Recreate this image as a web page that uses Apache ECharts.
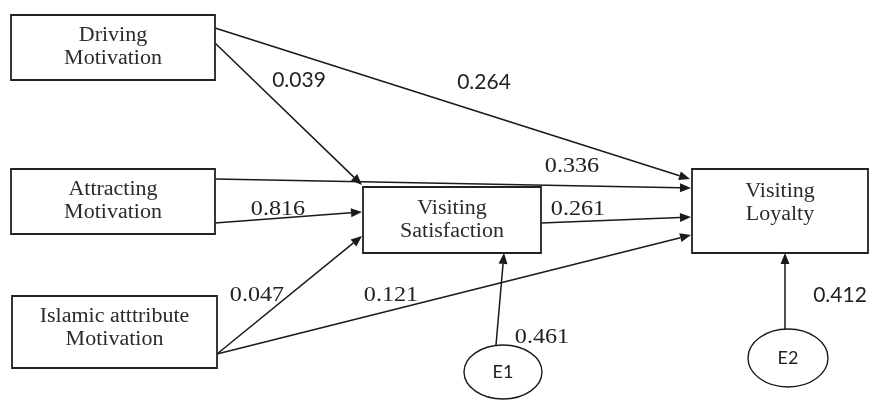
<!DOCTYPE html>
<html><head><meta charset="utf-8">
<script src="https://cdn.jsdelivr.net/npm/echarts@6/dist/echarts.min.js"></script>
<style>html,body{margin:0;padding:0;background:#fff}#c{width:869px;height:400px}</style>
</head><body><div id="c"></div>
<script>
// ---- data ----
const constructs = ['Driving\nMotivation', 'Attracting\nMotivation', 'Islamic atttribute\nMotivation', 'Visiting\nSatisfaction', 'Visiting\nLoyalty'];
const errorTerms = ['E1', 'E2'];
const pathFrom = ['Driving\nMotivation', 'Driving\nMotivation', 'Attracting\nMotivation', 'Attracting\nMotivation', 'Islamic atttribute\nMotivation', 'Islamic atttribute\nMotivation', 'Visiting\nSatisfaction', 'E1', 'E2'];
const pathTo = ['Visiting\nLoyalty', 'Visiting\nSatisfaction', 'Visiting\nLoyalty', 'Visiting\nSatisfaction', 'Visiting\nSatisfaction', 'Visiting\nLoyalty', 'Visiting\nLoyalty', 'Visiting\nSatisfaction', 'Visiting\nLoyalty'];
const pathCoef = ['0.264', '0.039', '0.336', '0.816', '0.047', '0.121', '0.261', '0.461', '0.412'];

// ---- layout (diagram geometry, px) ----
const boxLayout = [[11,15,204,65,0],[11,169,204,65,0],[12,296,205,72,-4],[363,187,178,66,0],[692,169,176,84,-8]];
const ellipseLayout = [[503,372,39,27],[788,358,40,29]];
const pathLayout = [[215,28,690,179],[215,43,362,185],[215,179,691,188],[215,223,362,212],[217,354,362,236],[217,354,691,235],[541,223,691,217],[496,345,504,253],[785,329,785,253]];
const labelLayout = [[484,82,'sans'],[299,80,'sans'],[572,166,'serif'],[278,209,'serif'],[257,295,'serif'],[391,295,'serif'],[578,209,'serif'],[542,337,'serif'],[840,295,'sans']];

const chart = echarts.init(document.getElementById('c'));
const INK = '#1a1a1a';

const boxData = constructs.map((n, i) => boxLayout[i].concat([n]));
const ellData = errorTerms.map((n, i) => ellipseLayout[i].concat([n]));
const pathData = pathCoef.map((c, i) => pathLayout[i].concat([pathFrom[i] + '→' + pathTo[i]]));
const labelData = pathCoef.map((c, i) => [labelLayout[i][0], labelLayout[i][1], c, labelLayout[i][2]]);

chart.setOption({
  animation: false,
  backgroundColor: '#fff',
  grid: {left: 0, right: 0, top: 0, bottom: 0},
  xAxis: {type: 'value', min: 0, max: 869, show: false},
  yAxis: {type: 'value', min: 0, max: 400, inverse: true, show: false},
  series: [
    {
      type: 'custom', data: pathData, z: 2,
      renderItem: (params, api) => {
        const p1 = api.coord([api.value(0), api.value(1)]);
        const p2 = api.coord([api.value(2), api.value(3)]);
        const dx = p2[0] - p1[0], dy = p2[1] - p1[1];
        const L = Math.sqrt(dx*dx + dy*dy), ux = dx / L, uy = dy / L;
        const al = 11, aw = 4.5;
        const bx = p2[0] - ux * al, by = p2[1] - uy * al;
        return {type: 'group', children: [
          {type: 'line', shape: {x1: p1[0], y1: p1[1], x2: bx, y2: by}, style: {stroke: INK, lineWidth: 1.5}},
          {type: 'polygon', shape: {points: [[p2[0], p2[1]], [bx - uy*aw, by + ux*aw], [bx + uy*aw, by - ux*aw]]}, style: {fill: INK}}
        ]};
      }
    },
    {
      type: 'custom', data: boxData, z: 3,
      renderItem: (params, api) => {
        const p = api.coord([api.value(0), api.value(1)]);
        const w = api.value(2), h = api.value(3), off = api.value(4);
        const name = constructs[params.dataIndex];
        const cx = p[0] + w / 2, cy = p[1] + h / 2 + off;
        return {type: 'group', children: [
          {type: 'rect', shape: {x: p[0], y: p[1], width: w, height: h}, style: {fill: '#fff', stroke: '#222', lineWidth: 1.8}},
          {type: 'text', x: cx, y: cy, scaleX: 1.1, style: {text: name, fill: '#2b2b2b', font: '20px "Liberation Serif"', align: 'center', verticalAlign: 'middle', lineHeight: 23}}
        ]};
      }
    },
    {
      type: 'custom', data: ellData, z: 3,
      renderItem: (params, api) => {
        const p = api.coord([api.value(0), api.value(1)]);
        return {type: 'group', children: [
          {type: 'ellipse', shape: {cx: p[0], cy: p[1], rx: api.value(2), ry: api.value(3)}, style: {fill: '#fff', stroke: INK, lineWidth: 1.4}},
          {type: 'text', x: p[0], y: p[1], style: {text: errorTerms[params.dataIndex], fill: '#222', font: '18px Lato', align: 'center', verticalAlign: 'middle'}}
        ]};
      }
    },
    {
      type: 'custom', data: labelData, z: 4,
      renderItem: (params, api) => {
        const p = api.coord([api.value(0), api.value(1)]);
        const d = labelData[params.dataIndex];
        const serif = d[3] === 'serif';
        return {type: 'text', x: p[0], y: p[1], scaleX: serif ? 1.15 : 1,
          style: {text: d[2], fill: '#222', font: serif ? '21px "Liberation Serif"' : '21px Lato', align: 'center', verticalAlign: 'middle'}};
      }
    }
  ]
});
</script></body></html>
